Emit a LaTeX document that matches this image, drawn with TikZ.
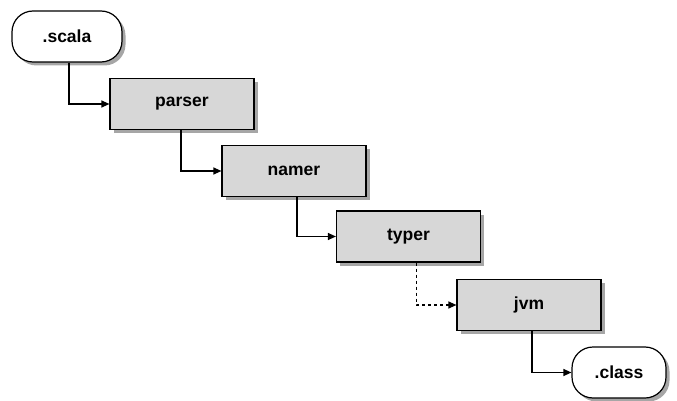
\documentclass[tikz,border=0pt]{standalone}
\usepackage{fontspec}
\setmainfont{Liberation Sans}
\usetikzlibrary{shadows,arrows.meta}
\tikzset{
  x=1pt, y=-1pt,
  common/.style={draw=black, line width=1.2pt, font=\fontsize{17.5}{20}\selectfont\bfseries, inner sep=0pt,
    drop shadow={shadow xshift=3.5pt, shadow yshift=-3.5pt, fill=black, opacity=0.35}},
  phase/.style={common, rectangle, fill={rgb,255:red,215;green,215;blue,215}, minimum width=144pt, minimum height=51pt},
  fileterm/.style={common, rectangle, rounded corners=21pt, fill=white, minimum height=51pt},
  conn/.style={draw=black, line width=1.2pt, -{Triangle[length=8pt,width=7pt]}},
  dconn/.style={conn, dash pattern=on 3pt off 3pt},
}
\begin{document}
\begin{tikzpicture}
\useasboundingbox (0,0) rectangle (677,401);
\node[fileterm, minimum width=110pt] (scala) at (67,36.5) {.scala};
\node[phase] (parser) at (182,104) {parser};
\node[phase] (namer) at (294,171) {namer};
\node[phase] (typer) at (408.5,236.5) {typer};
\node[phase] (jvm) at (529,305) {jvm};
\node[fileterm, minimum width=94pt] (class) at (619,372.5) {.class};
\draw[conn] ([xshift=2pt]scala.south) |- (parser.west);
\draw[conn] ([xshift=-1pt]parser.south) |- (namer.west);
\draw[conn] ([xshift=3pt]namer.south) |- (typer.west);
\draw[dconn] ([xshift=8pt]typer.south) |- (jvm.west);
\draw[conn] ([xshift=3pt]jvm.south) |- (class.west);
\end{tikzpicture}
\end{document}
